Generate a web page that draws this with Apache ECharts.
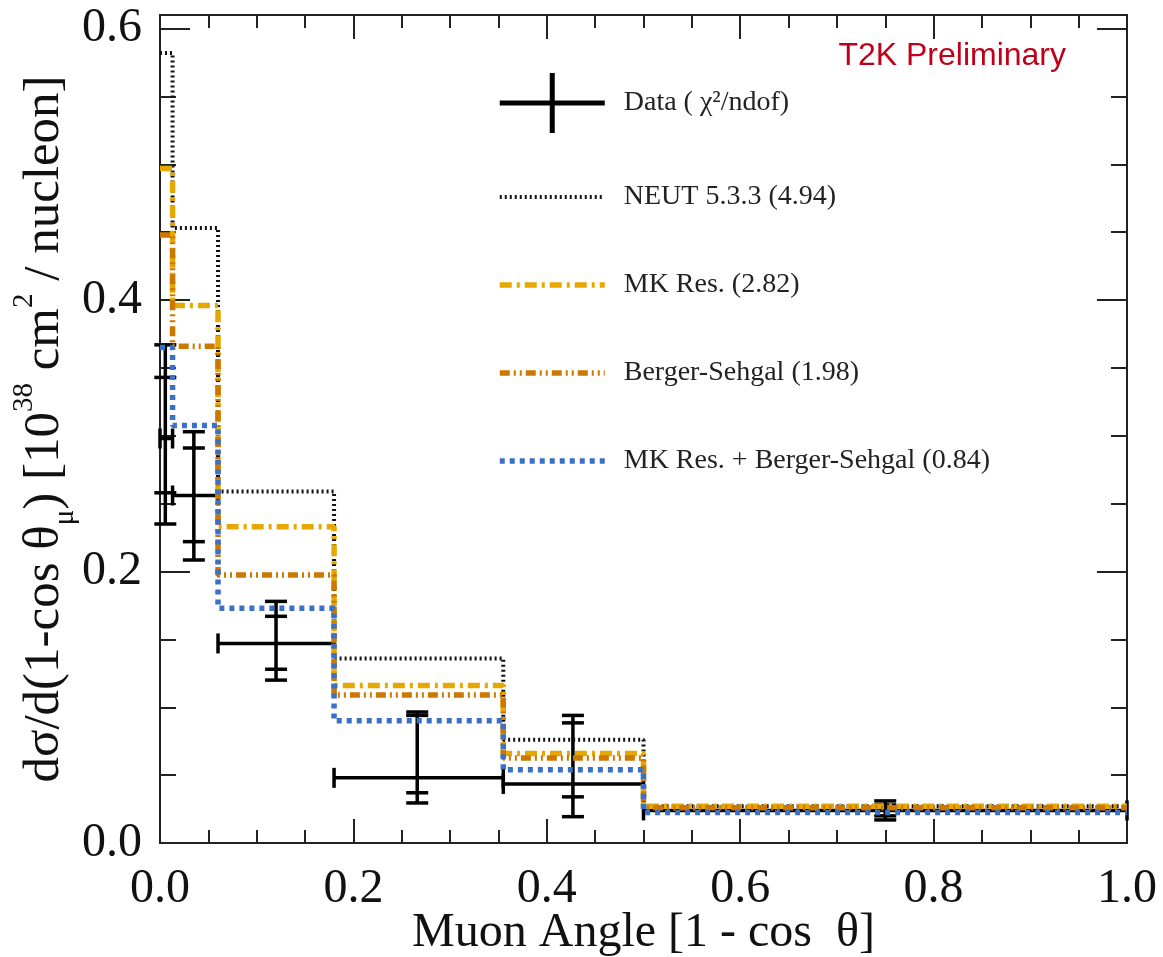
<!DOCTYPE html>
<html>
<head>
<meta charset="utf-8">
<script src="https://cdn.jsdelivr.net/npm/echarts@6/dist/echarts.min.js"></script>
<style>html,body{margin:0;padding:0;background:#fff;}#c{width:1163px;height:957px;}</style>
</head>
<body>
<div id="c"></div>
<script>
// ---- data ----
const binEdges = [0, 0.013, 0.06, 0.18, 0.355, 0.5, 1.0];
const neut = [0.582, 0.453, 0.259, 0.136, 0.076, 0.027];
const mkRes = [0.497, 0.396, 0.233, 0.116, 0.066, 0.027];
const bergerSehgal = [0.448, 0.366, 0.1975, 0.109, 0.0626, 0.026];
const mkResBs = [0.365, 0.3075, 0.173, 0.090, 0.054, 0.0225];
const dataX = [0.0055, 0.035, 0.12, 0.266, 0.427, 0.75];
const dataY = [0.298, 0.256, 0.147, 0.048, 0.0435, 0.024];
const totHi = [0.367, 0.303, 0.178, 0.0965, 0.094, 0.031];
const statHi = [0.343, 0.291, 0.167, 0.094, 0.0885, 0.028];
const statLo = [0.258, 0.222, 0.128, 0.037, 0.034, 0.020];
const totLo = [0.235, 0.2085, 0.120, 0.0295, 0.0194, 0.017];
const xTickLabels = ['0.0', '0.2', '0.4', '0.6', '0.8', '1.0'];
const yTickLabels = ['0.0', '0.2', '0.4', '0.6'];
const seriesNames = ['Data ( χ²/ndof)', 'NEUT 5.3.3 (4.94)', 'MK Res. (2.82)', 'Berger-Sehgal (1.98)', 'MK Res. + Berger-Sehgal (0.84)'];

function stepData(vals) {
  const d = [];
  for (let i = 0; i < vals.length; i++) d.push([binEdges[i], vals[i]]);
  d.push([binEdges[binEdges.length - 1], vals[vals.length - 1]]);
  return d;
}
const errData = dataX.map((x, i) => [x, dataY[i], binEdges[i], binEdges[i + 1], totLo[i], totHi[i], statLo[i], statHi[i]]);

const serif = '"Liberation Serif", "DejaVu Serif", serif';
const AX = '#222';
const styles = [
  null,
  { color: '#111', width: 4, type: [2, 3] },
  { color: '#E6A800', width: 5.5, type: [12, 5, 3, 5] },
  { color: '#CC7800', width: 5.5, type: [10, 4, 2, 4, 2, 4] },
  { color: '#3A70C6', width: 5.5, type: [5, 5] }
];

function xAx(pos, labels) {
  return {
    type: 'value', position: pos, min: 0, max: 1, interval: 0.2,
    axisLine: { show: true, onZero: false, lineStyle: { color: AX, width: 2 } },
    axisTick: { show: true, inside: true, length: 24, lineStyle: { color: AX, width: 2 } },
    minorTick: { show: true, splitNumber: 4, length: 13, lineStyle: { color: AX, width: 2 } },
    splitLine: { show: false }, minorSplitLine: { show: false },
    axisLabel: labels ? {
      show: true, margin: 22, fontFamily: serif, fontSize: 48, color: '#111',
      formatter: v => xTickLabels[Math.round(v / 0.2)] || ''
    } : { show: false },
    name: labels ? 'Muon Angle [1 - cos  θ]' : '',
    nameLocation: 'middle', nameGap: 66, nameMoveOverlap: false,
    nameTextStyle: { fontFamily: serif, fontSize: 48, color: '#111', lineHeight: 48 }
  };
}
function yAx(pos, interval, len, labels) {
  const o = {
    type: 'value', position: pos, min: 0, max: 0.61, interval: interval,
    axisLine: { show: true, onZero: false, lineStyle: { color: AX, width: 2 } },
    axisTick: { show: true, inside: true, length: len, lineStyle: { color: AX, width: 2 } },
    splitLine: { show: false },
    axisLabel: labels ? {
      show: true, margin: 18, fontFamily: serif, fontSize: 48, color: '#111',
      formatter: v => { const k = Math.round(v / 0.2); return Math.abs(v - k * 0.2) < 1e-6 ? (yTickLabels[k] || '') : ''; }
    } : { show: false }
  };
  if (labels) {
    o.name = '{n|dσ/d(1-cos θ}{sub|μ}{n|) [10}{sup|38}{n| cm}{sup|2}{n| / nucleon]}';
    o.nameLocation = 'middle';
    o.nameGap = 80;
    o.nameMoveOverlap = false;
    o.nameRotate = 90;
    o.nameTextStyle = {
      rich: {
        n: { fontFamily: serif, fontSize: 51, color: '#111', lineHeight: 70 },
        sup: { fontFamily: serif, fontSize: 29, color: '#111', verticalAlign: 'top', lineHeight: 70 },
        sub: { fontFamily: serif, fontSize: 29, color: '#111', verticalAlign: 'bottom', lineHeight: 70 }
      }
    };
  }
  return o;
}

function lineSeries(idx, vals) {
  const s = styles[idx];
  return {
    name: seriesNames[idx], type: 'line', step: 'end', data: stepData(vals),
    xAxisIndex: 0, yAxisIndex: 0, symbol: 'none', silent: true, animation: false,
    lineStyle: { color: s.color, width: s.width, type: s.type, cap: 'butt' },
    itemStyle: { color: s.color }
  };
}
function legendItem(idx) {
  const s = styles[idx];
  return {
    name: seriesNames[idx],
    itemStyle: { color: 'rgba(0,0,0,0)', borderWidth: 0, opacity: 0 },
    lineStyle: { color: s.color, width: s.width, type: s.type, cap: 'butt' }
  };
}

const chart = echarts.init(document.getElementById('c'), null, { renderer: 'canvas' });
chart.setOption({
  backgroundColor: '#fff',
  animation: false,
  grid: { left: 160, right: 36, top: 15, bottom: 114, containLabel: false, outerBoundsMode: 'none' },
  xAxis: [xAx('bottom', true), xAx('top', false)],
  yAxis: [yAx('left', 0.2, 30, true), yAx('left', 0.05, 16, false), yAx('right', 0.2, 30, false), yAx('right', 0.05, 16, false)],
  legend: {
    orient: 'vertical', left: 497, top: 73, itemWidth: 105, itemHeight: 60, itemGap: 40, padding: 0,
    selectedMode: false,
    textStyle: { fontFamily: serif, fontSize: 28, color: '#222', padding: [0, 0, 0, 14] },
    data: [
      { name: seriesNames[0], icon: 'path://M0,27.5 L105,27.5 L105,32.5 L0,32.5 Z M50,0 L55,0 L55,60 L50,60 Z', itemStyle: { color: '#000' } },
      legendItem(1), legendItem(2), legendItem(3), legendItem(4)
    ]
  },
  graphic: [{
    type: 'text', right: 97, top: 40,
    style: { text: 'T2K Preliminary', font: '32px "Liberation Sans", Arial, sans-serif', fill: '#C00018' }
  }],
  series: [
    lineSeries(1, neut),
    lineSeries(2, mkRes),
    lineSeries(3, bergerSehgal),
    lineSeries(4, mkResBs),
    {
      name: seriesNames[0], type: 'custom', xAxisIndex: 0, yAxisIndex: 0, silent: true,
      itemStyle: { color: '#000' },
      data: errData,
      renderItem: function (params, api) {
        const x = api.value(0), y = api.value(1);
        const c = api.coord([x, y]);
        const xl = api.coord([api.value(2), y])[0];
        const xh = api.coord([api.value(3), y])[0];
        const yTL = api.coord([x, api.value(4)])[1];
        const yTH = api.coord([x, api.value(5)])[1];
        const ySL = api.coord([x, api.value(6)])[1];
        const ySH = api.coord([x, api.value(7)])[1];
        const st = { stroke: '#000', lineWidth: 3.5, fill: null };
        const cw = 11, ch = 10;
        const ln = (x1, y1, x2, y2) => ({ type: 'line', shape: { x1, y1, x2, y2 }, style: st });
        return {
          type: 'group', children: [
            ln(xl, c[1], xh, c[1]),
            ln(xl, c[1] - ch, xl, c[1] + ch),
            ln(xh, c[1] - ch, xh, c[1] + ch),
            ln(c[0], yTH, c[0], yTL),
            ln(c[0] - cw, yTH, c[0] + cw, yTH),
            ln(c[0] - cw, yTL, c[0] + cw, yTL),
            ln(c[0] - cw, ySH, c[0] + cw, ySH),
            ln(c[0] - cw, ySL, c[0] + cw, ySL)
          ]
        };
      }
    }
  ]
});
</script>
</body>
</html>
